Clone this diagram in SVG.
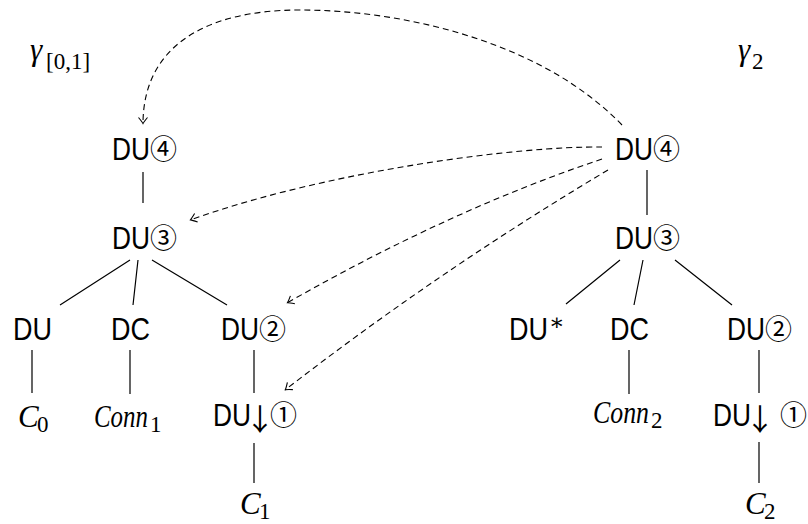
<svg xmlns="http://www.w3.org/2000/svg" width="808" height="524" viewBox="0 0 808 524">
<style>
.sf{font-family:"Liberation Sans","DejaVu Sans",sans-serif;font-size:32px;fill:#000}
.ci{font-family:"Noto Sans CJK JP","DejaVu Sans",sans-serif;font-size:27px;fill:#000}
.mi{font-family:"Liberation Serif","DejaVu Serif",serif;font-style:italic;font-size:31px;fill:#000}
.sub{font-family:"Liberation Serif","DejaVu Serif",serif;font-size:23px;fill:#000}
.arr{font-family:"Noto Sans CJK JP","DejaVu Sans",sans-serif;font-size:30px;fill:#000}
.e{stroke:#000;stroke-width:1.2;fill:none}
.d{stroke:#000;stroke-width:1.1;fill:none;stroke-dasharray:6 4;marker-end:url(#to)}
</style>
<defs>
<marker id="to" markerUnits="userSpaceOnUse" markerWidth="14" markerHeight="14" refX="0.5" refY="0" viewBox="-8 -7 10 14" orient="auto" overflow="visible">
<path d="M-6,-4.5 Q-1.5,-0.8 0,0 Q-1.5,0.8 -6,4.5" fill="none" stroke="#000" stroke-width="1.1"/>
</marker>
</defs>
<g id="labels">
<text class="mi" x="30" y="60">γ</text><text class="sub" x="46" y="69">[0,1]</text>
<text class="mi" x="738" y="60">γ</text><text class="sub" x="752" y="69">2</text>
</g>
<g id="L4"><text class="sf" x="112" y="160" textLength="38" lengthAdjust="spacingAndGlyphs">DU</text><text class="ci" x="150" y="159">④</text></g>
<g id="L3"><text class="sf" x="112" y="249" textLength="38" lengthAdjust="spacingAndGlyphs">DU</text><text class="ci" x="150" y="248">③</text></g>
<g id="LDU"><text class="sf" x="13" y="340" textLength="39" lengthAdjust="spacingAndGlyphs">DU</text></g>
<g id="LDC"><text class="sf" x="111" y="340" textLength="39" lengthAdjust="spacingAndGlyphs">DC</text></g>
<g id="L2"><text class="sf" x="221" y="340" textLength="38" lengthAdjust="spacingAndGlyphs">DU</text><text class="ci" x="259" y="339">②</text></g>
<g id="LC0"><text class="mi" x="18" y="427">C</text><text class="sub" x="37" y="432">0</text></g>
<g id="LConn1"><text class="mi" x="94" y="427" textLength="54" lengthAdjust="spacingAndGlyphs">Conn</text><text class="sub" x="150" y="432">1</text></g>
<g id="L1"><text class="sf" x="213" y="426" textLength="38" lengthAdjust="spacingAndGlyphs">DU</text><text class="arr" x="245" y="430">↓</text><text class="ci" x="270" y="425">①</text></g>
<g id="LC1"><text class="mi" x="240" y="514">C</text><text class="sub" x="259" y="519">1</text></g>
<g id="R4"><text class="sf" x="615" y="160" textLength="38" lengthAdjust="spacingAndGlyphs">DU</text><text class="ci" x="653" y="159">④</text></g>
<g id="R3"><text class="sf" x="615" y="249" textLength="38" lengthAdjust="spacingAndGlyphs">DU</text><text class="ci" x="653" y="248">③</text></g>
<g id="RDUs"><text class="sf" x="509" y="340" textLength="39" lengthAdjust="spacingAndGlyphs">DU</text><text class="sub" x="549" y="330">∗</text></g>
<g id="RDC"><text class="sf" x="610" y="340" textLength="39" lengthAdjust="spacingAndGlyphs">DC</text></g>
<g id="R2"><text class="sf" x="727" y="340" textLength="38" lengthAdjust="spacingAndGlyphs">DU</text><text class="ci" x="765" y="339">②</text></g>
<g id="RConn2"><text class="mi" x="593" y="423" textLength="56" lengthAdjust="spacingAndGlyphs">Conn</text><text class="sub" x="651" y="428">2</text></g>
<g id="R1"><text class="sf" x="713" y="426" textLength="38" lengthAdjust="spacingAndGlyphs">DU</text><text class="arr" x="745" y="430">↓</text><text class="ci" x="780" y="425">①</text></g>
<g id="RC2"><text class="mi" x="745" y="514">C</text><text class="sub" x="764" y="519">2</text></g>
<g id="connectors">
<path class="e" d="M143,172V203M130,260L60,305M138,260L133,305M152,260L227,305M32,350V393M130,350V394M254,350V393M254,443V483"/>
<path class="e" d="M647,170V215M620,260L566,304M643,260L634,305M675,260L732,305M629,350V394M759,350V393M759,442V483"/>
<path class="d" d="M622,125C540,40 400,10 300,10C200,10 143,50 143,124"/>
<path class="d" d="M602,147C520,146 330,170 190,220"/>
<path class="d" d="M602,159Q450,210 287,303"/>
<path class="d" d="M608,170Q440,270 285,390"/>
</g>
</svg>
